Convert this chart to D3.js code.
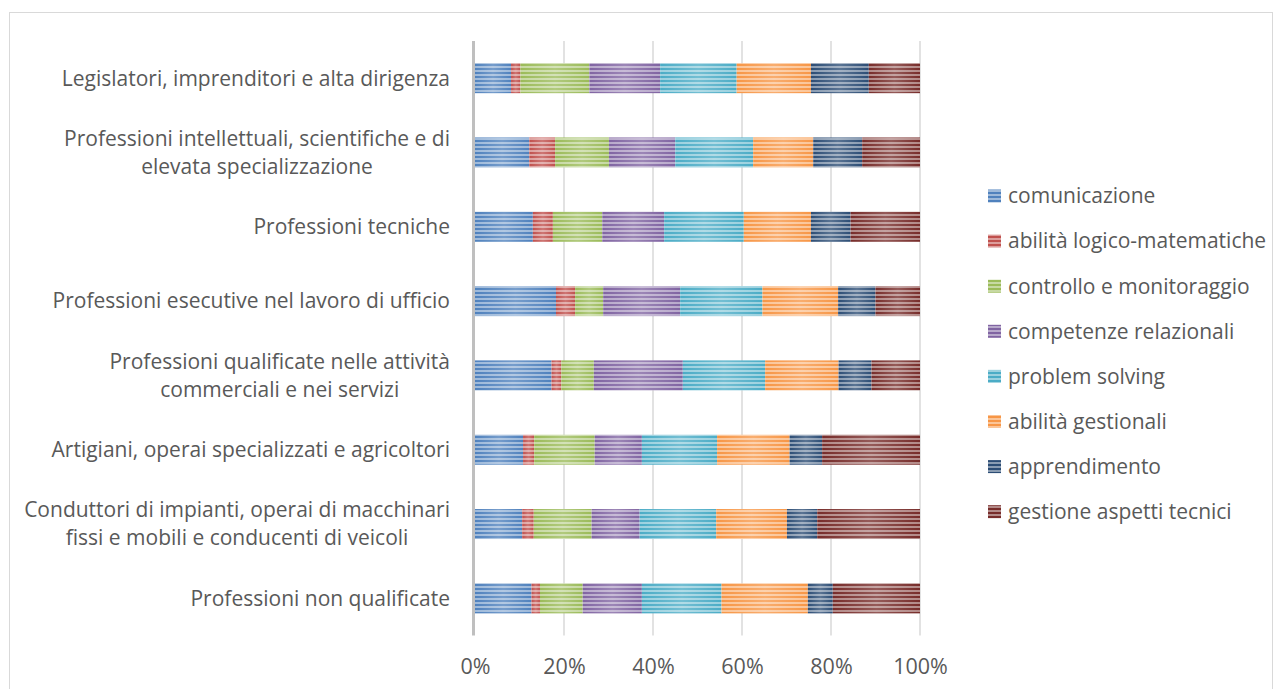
<!DOCTYPE html>
<html>
<head>
<meta charset="utf-8">
<script src="https://cdn.jsdelivr.net/npm/d3@7"></script>
<style>
  html, body { margin: 0; padding: 0; background: #fff; }
  svg { display: block; }
  text { font-family: "Open Sans", "Noto Sans", sans-serif; fill: #595959; }
</style>
</head>
<body>
<svg id="chart" width="1282" height="689"></svg>
<script>
// Occupational groups (top to bottom); "\n" marks a line break in the label
const categories = [
  "Legislatori, imprenditori e alta dirigenza",
  "Professioni intellettuali, scientifiche e di\nelevata specializzazione",
  "Professioni tecniche",
  "Professioni esecutive nel lavoro di ufficio",
  "Professioni qualificate nelle attività\ncommerciali e nei servizi",
  "Artigiani, operai specializzati e agricoltori",
  "Conduttori di impianti, operai di macchinari\nfissi e mobili e conducenti di veicoli",
  "Professioni non qualificate"
];

const seriesNames = [
  "comunicazione",
  "abilità logico-matematiche",
  "controllo e monitoraggio",
  "competenze relazionali",
  "problem solving",
  "abilità gestionali",
  "apprendimento",
  "gestione aspetti tecnici"
];

// Share (%) of each skill area per group, in the order of `categories`
const comunicazione   = [8.1, 12.2, 13.0, 18.2, 17.2, 10.8, 10.6, 12.7];
const logicoMatematiche = [2.1, 5.8, 4.5, 4.3, 2.2, 2.5, 2.6, 1.9];
const controllo       = [15.5, 12.1, 11.1, 6.3, 7.3, 13.6, 13.0, 9.6];
const relazionali     = [15.9, 14.9, 13.9, 17.3, 20.0, 10.6, 10.8, 13.3];
const problemSolving  = [17.2, 17.5, 17.9, 18.5, 18.5, 16.9, 17.2, 17.9];
const gestionali      = [16.7, 13.5, 15.1, 17.0, 16.5, 16.3, 15.9, 19.4];
const apprendimento   = [13.0, 11.0, 8.9, 8.4, 7.4, 7.3, 6.8, 5.6];
const aspettiTecnici  = [11.5, 13.0, 15.6, 10.0, 10.9, 22.0, 23.1, 19.6];

const seriesValues = [comunicazione, logicoMatematiche, controllo, relazionali,
                      problemSolving, gestionali, apprendimento, aspettiTecnici];

const tickValues = [0, 0.2, 0.4, 0.6, 0.8, 1];

const colors = ["#4F81BD", "#C0504D", "#9BBB59", "#8064A2",
                "#4BACC6", "#F79646", "#2C4D75", "#772C2A"];

// Build the table used by d3.stack
const rows = categories.map((c, i) => {
  const r = { category: c };
  seriesNames.forEach((s, j) => { r[s] = seriesValues[j][i]; });
  return r;
});

const stack = d3.stack().keys(seriesNames).offset(d3.stackOffsetExpand);
const layers = stack(rows);

const svg = d3.select("#chart");

// Chart frame
svg.append("rect")
  .attr("x", 9.5).attr("y", 12.5)
  .attr("width", 1263).attr("height", 700)
  .attr("fill", "#fff").attr("stroke", "#d9d9d9").attr("stroke-width", 1);

const x = d3.scaleLinear().domain([0, 1]).range([475, 920]);
const y = d3.scaleBand().domain(categories).range([41, 635.5])
  .paddingInner(0.596).paddingOuter(0.298);

// Striped fills
const defs = svg.append("defs");
colors.forEach((col, i) => {
  const p = defs.append("pattern")
    .attr("id", "stripe" + i)
    .attr("patternUnits", "userSpaceOnUse")
    .attr("width", 8).attr("height", 4);
  p.append("rect").attr("width", 8).attr("height", 4).attr("fill", col);
  p.append("rect").attr("y", 2.2).attr("width", 8).attr("height", 1.6)
    .attr("fill", "#fff").attr("opacity", 0.55);
});
const sheen = defs.append("linearGradient").attr("id", "sheen")
  .attr("x1", 0).attr("x2", 1).attr("y1", 0).attr("y2", 0);
sheen.append("stop").attr("offset", 0).attr("stop-color", "#fff").attr("stop-opacity", 0);
sheen.append("stop").attr("offset", 0.5).attr("stop-color", "#fff").attr("stop-opacity", 0.22);
sheen.append("stop").attr("offset", 1).attr("stop-color", "#fff").attr("stop-opacity", 0);

// Vertical gridlines
svg.append("g")
  .selectAll("line")
  .data(tickValues.slice(1))
  .join("line")
  .attr("x1", d => x(d)).attr("x2", d => x(d))
  .attr("y1", 41).attr("y2", 635.5)
  .attr("stroke", "#d9d9d9").attr("stroke-width", 1.5);

// Bars
const g = svg.append("g");
layers.forEach((layer, i) => {
  const lg = g.append("g");
  lg.selectAll("rect.seg")
    .data(layer)
    .join("rect")
    .attr("class", "seg")
    .attr("x", d => x(d[0]))
    .attr("y", d => y(d.data.category))
    .attr("width", d => x(d[1]) - x(d[0]))
    .attr("height", y.bandwidth())
    .attr("fill", `url(#stripe${i})`);
  lg.selectAll("rect.sh")
    .data(layer)
    .join("rect")
    .attr("class", "sh")
    .attr("x", d => x(d[0]))
    .attr("y", d => y(d.data.category))
    .attr("width", d => x(d[1]) - x(d[0]))
    .attr("height", y.bandwidth())
    .attr("fill", "url(#sheen)");
});

// Category axis line
svg.append("line")
  .attr("x1", x(0) - 1.5).attr("x2", x(0) - 1.5)
  .attr("y1", 41).attr("y2", 635.5)
  .attr("stroke", "#bfbfbf").attr("stroke-width", 3);

// Value axis labels
const xAxis = d3.axisBottom(x).tickValues(tickValues)
  .tickFormat(d3.format(".0%")).tickSize(0).tickPadding(0);
const xg = svg.append("g").attr("transform", "translate(0,666)").call(xAxis);
xg.select(".domain").remove();
xg.selectAll("text")
  .style("font-family", '"Open Sans", sans-serif')
  .attr("font-size", 21.5).attr("fill", "#595959").attr("y", 0).attr("dy", "0.35em");

// Category labels (multi-line labels centred on each other, block right-aligned)
const labelRight = 450;
const lineH = 28;
categories.forEach(c => {
  const lines = c.split("\n");
  const cy = y(c) + y.bandwidth() / 2;
  const t = svg.append("g");
  const texts = lines.map((ln, k) =>
    t.append("text")
      .attr("font-size", 21)
      .attr("y", cy + (k - (lines.length - 1) / 2) * lineH)
      .attr("dy", "0.35em")
      .attr("text-anchor", "middle")
      .text(ln));
  const maxW = d3.max(texts, tx => tx.node().getComputedTextLength());
  texts.forEach(tx => tx.attr("x", labelRight - maxW / 2));
});

// Legend
const legend = svg.append("g");
seriesNames.forEach((s, i) => {
  const ly = 196 + i * 45.1;
  legend.append("rect")
    .attr("x", 988).attr("y", ly - 6.5)
    .attr("width", 13).attr("height", 13)
    .attr("fill", `url(#stripe${i})`);
  legend.append("text")
    .attr("x", 1008).attr("y", ly).attr("dy", "0.35em")
    .attr("font-size", 21)
    .text(s);
});
</script>
</body>
</html>
